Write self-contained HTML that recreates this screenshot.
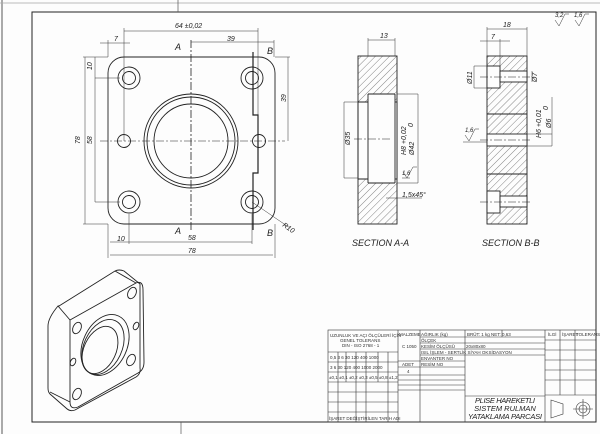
<!DOCTYPE html>
<html><head><meta charset="utf-8"><style>
html,body{margin:0;padding:0;background:#fff;}
svg{display:block;font-family:"Liberation Sans",sans-serif;}
</style></head><body>
<svg width="600" height="434" viewBox="0 0 600 434" xmlns="http://www.w3.org/2000/svg">
<defs>
<pattern id="h" width="5" height="5" patternUnits="userSpaceOnUse" patternTransform="rotate(45)"><line x1="0" y1="0" x2="0" y2="5" stroke="#333" stroke-width="0.6"/></pattern>
</defs>
<rect width="600" height="434" fill="#fdfdfd"/>
<line x1="0" y1="3" x2="600" y2="3" stroke="#bbb" stroke-width="1"/>
<line x1="2" y1="0" x2="2" y2="434" stroke="#aaa" stroke-width="2"/>
<rect x="32" y="12" width="564" height="410" fill="none" stroke="#222" stroke-width="1"/>
<line x1="178" y1="0" x2="178" y2="12" stroke="#555" stroke-width="0.7"/>
<line x1="181" y1="422" x2="181" y2="434" stroke="#555" stroke-width="0.7"/>

<!-- main view -->
<g stroke="#222" fill="none" stroke-width="0.9">
<rect x="108" y="57" width="167" height="167" rx="16"/>
<circle cx="191" cy="141" r="47"/><circle cx="191" cy="141" r="44"/><circle cx="191" cy="141" r="37"/>
<circle cx="129" cy="78" r="11"/><circle cx="129" cy="78" r="6.5"/>
<circle cx="252" cy="78" r="11"/><circle cx="252" cy="78" r="6.5"/>
<circle cx="129" cy="202" r="11"/><circle cx="129" cy="202" r="6.5"/>
<circle cx="252" cy="202" r="11"/><circle cx="252" cy="202" r="6.5"/>
<circle cx="124" cy="141" r="6.5"/><circle cx="259" cy="141" r="6.5"/>
<path d="M191 40 V230" stroke-dasharray="8 2 2 2" stroke-width="0.8"/>
<path d="M100 141 H285" stroke-dasharray="8 2 2 2" stroke-width="0.6"/>
<path d="M253 52 V115 H258 V173 H253 V230" stroke-width="1.2"/>
</g>
<g stroke="#333" stroke-width="0.5" fill="none">
<line x1="124" y1="31" x2="258" y2="31"/><line x1="124" y1="28" x2="124" y2="141"/><line x1="258" y1="28" x2="258" y2="141"/>
<line x1="191" y1="42" x2="274" y2="42"/><line x1="274" y1="40" x2="274" y2="57"/>
<line x1="100" y1="43" x2="130" y2="43"/><line x1="108" y1="40" x2="108" y2="57"/>
<line x1="83" y1="57" x2="108" y2="57"/><line x1="83" y1="224" x2="108" y2="224"/><line x1="85" y1="57" x2="85" y2="224"/>
<line x1="95" y1="78" x2="120" y2="78"/><line x1="95" y1="202" x2="120" y2="202"/><line x1="95" y1="57" x2="95" y2="78"/><line x1="95" y1="78" x2="95" y2="202"/>
<line x1="275" y1="57" x2="290" y2="57"/><line x1="288" y1="57" x2="288" y2="141"/>
<line x1="108" y1="224" x2="108" y2="258"/><line x1="275" y1="224" x2="275" y2="258"/><line x1="110" y1="255" x2="273" y2="255"/>
<line x1="110" y1="242" x2="252" y2="242"/><line x1="129" y1="214" x2="129" y2="244"/><line x1="252" y1="214" x2="252" y2="244"/>
<line x1="252" y1="202" x2="290" y2="228"/>
</g>
<g font-size="7" font-style="italic" fill="#222">
<text x="175" y="28">64 ±0,02</text>
<text x="227" y="41">39</text>
<text x="114" y="41">7</text>
<text x="175" y="50" font-size="9">A</text><text x="175" y="234" font-size="9">A</text>
<text x="267" y="54" font-size="9">B</text><text x="267" y="236" font-size="9">B</text>
<text x="117" y="241">10</text><text x="188" y="240">58</text><text x="188" y="253">78</text>
<text x="282" y="226" transform="rotate(35 282 226)">R10</text>
<text x="80" y="144" transform="rotate(-90 80 144)">78</text>
<text x="92" y="144" transform="rotate(-90 92 144)">58</text>
<text x="92" y="70" transform="rotate(-90 92 70)">10</text>
<text x="286" y="102" transform="rotate(-90 286 102)">39</text>
</g>

<!-- section A-A -->
<g stroke="#222" stroke-width="0.9">
<rect x="358" y="56" width="39" height="168" fill="url(#h)"/>
<rect x="358" y="102" width="39" height="77" fill="#fdfdfd"/>
<rect x="368" y="94" width="27" height="89" fill="#fdfdfd" stroke="none"/>
<path d="M358 102 V179 M358 102 H368 M358 179 H368 M368 94 V183 M368 94 H395 M368 183 H395 M395 94 V183" fill="none"/>
<path d="M354 139 H390" stroke-dasharray="8 2 2 2" stroke-width="0.5" fill="none"/>
</g>
<g stroke="#333" stroke-width="0.5" fill="none">
<line x1="368" y1="40" x2="395" y2="40"/><line x1="368" y1="38" x2="368" y2="56"/><line x1="395" y1="38" x2="395" y2="56"/>
<line x1="344" y1="102" x2="344" y2="178"/><line x1="344" y1="102" x2="358" y2="102"/><line x1="344" y1="178" x2="358" y2="178"/>
<line x1="418" y1="94" x2="418" y2="183"/><line x1="397" y1="94" x2="418" y2="94"/><line x1="397" y1="183" x2="418" y2="183"/>
<line x1="386" y1="198" x2="422" y2="198"/>
<path d="M402 178 L410 178 M403 172 l4 6 l6 -11 h4"/>
</g>
<g font-size="7" font-style="italic" fill="#222">
<text x="380" y="38">13</text>
<text x="350" y="145" transform="rotate(-90 350 145)">Ø35</text>
<text x="414" y="155" transform="rotate(-90 414 155)">Ø42</text>
<text x="406" y="155" transform="rotate(-90 406 155)">H8 +0,02</text>
<text x="413" y="127" transform="rotate(-90 413 127)">0</text>
<text x="402" y="197">1,5x45°</text>
<text x="402" y="175" font-size="6">1,6</text>
<text x="352" y="246" font-size="9">SECTION A-A</text>
</g>

<!-- section B-B -->
<g stroke="#222" stroke-width="0.9">
<rect x="487" y="56" width="40" height="168" fill="url(#h)"/>
<rect x="487" y="66" width="13" height="22" fill="#fdfdfd"/><rect x="500" y="71" width="27" height="11" fill="#fdfdfd"/>
<rect x="487" y="134" width="40" height="12" fill="#fdfdfd"/>
<rect x="487" y="191" width="13" height="22" fill="#fdfdfd"/><rect x="500" y="196" width="27" height="11" fill="#fdfdfd"/>
<path d="M487 114 H527 M487 174 H527" fill="none"/>
<path d="M480 77 H532 M480 140 H532 M480 202 H532" stroke-dasharray="8 2 2 2" stroke-width="0.5" fill="none"/>
</g>
<g stroke="#333" stroke-width="0.5" fill="none">
<line x1="487" y1="29" x2="527" y2="29"/><line x1="487" y1="27" x2="487" y2="56"/><line x1="527" y1="27" x2="527" y2="56"/>
<line x1="480" y1="41" x2="510" y2="41"/><line x1="500" y1="39" x2="500" y2="66"/>
<line x1="474" y1="66" x2="474" y2="88"/><line x1="474" y1="66" x2="487" y2="66"/><line x1="474" y1="88" x2="487" y2="88"/>
<line x1="532" y1="71" x2="532" y2="82"/>
<line x1="552" y1="97" x2="552" y2="146"/><line x1="527" y1="134" x2="552" y2="134"/><line x1="527" y1="146" x2="552" y2="146"/>
<path d="M465 135 l4 6 l6 -12 h4 M463 142 H487"/>
<path d="M555 20 l4 6 l6 -12 h4 M575 20 l4 6 l6 -12 h4"/>
</g>
<g font-size="7" font-style="italic" fill="#222">
<text x="503" y="27">18</text><text x="491" y="39">7</text>
<text x="472" y="84" transform="rotate(-90 472 84)">Ø11</text>
<text x="537" y="82" transform="rotate(-90 537 82)">Ø7</text>
<text x="551" y="128" transform="rotate(-90 551 128)">Ø6</text>
<text x="541" y="138" transform="rotate(-90 541 138)">H6 +0,01</text>
<text x="548" y="110" transform="rotate(-90 548 110)">0</text>
<text x="465" y="132" font-size="6">1,6</text>
<text x="555" y="17" font-size="6">3,2</text><text x="574" y="17" font-size="6">1,6</text>
<text x="482" y="246" font-size="9">SECTION B-B</text>
</g>

<!-- isometric -->
<g stroke="#222" stroke-width="0.9" fill="none">
<path d="M59 306 L115 271 Q119 269 124 271 L140 284 L140 368 Q141 374 136 377 L75 410 Q70 412 66 408 L50 394 Q48 392 48 388 L48 326 Q48 318 58 306 Z"/>
<path d="M70 320 L136 283 Q143 280 143 290 L144 362 Q144 370 138 373 L78 407 Q70 410 70 402 Z"/>
<path d="M58 306 L70 320 M115 271 L136 283 M50 392 L70 402"/>
<ellipse cx="105" cy="345" rx="22" ry="32" transform="rotate(25 105 345)"/>
<ellipse cx="103" cy="347" rx="19" ry="29" transform="rotate(25 103 347)"/>
<ellipse cx="100" cy="350" rx="16" ry="25" transform="rotate(25 100 350)"/>
<ellipse cx="132" cy="293" rx="4" ry="6" transform="rotate(25 132 293)"/>
<ellipse cx="131" cy="360" rx="4" ry="6" transform="rotate(25 131 360)"/>
<ellipse cx="77" cy="328" rx="4" ry="6" transform="rotate(25 77 328)"/>
<ellipse cx="77" cy="394" rx="4" ry="6" transform="rotate(25 77 394)"/>
<ellipse cx="136" cy="326" rx="2.5" ry="4" transform="rotate(25 136 326)"/>
<ellipse cx="73" cy="362" rx="2.5" ry="4" transform="rotate(25 73 362)"/>
</g>

<!-- title block -->
<g stroke="#333" stroke-width="0.6" fill="none">
<rect x="328" y="330" width="268" height="92"/>
<line x1="398" y1="330" x2="398" y2="422"/><line x1="420" y1="330" x2="420" y2="422"/><line x1="465" y1="330" x2="465" y2="422"/>
<line x1="545" y1="330" x2="545" y2="422"/><line x1="560" y1="330" x2="560" y2="395"/><line x1="575" y1="330" x2="575" y2="395"/>
<line x1="545" y1="395" x2="596" y2="395"/>
<line x1="328" y1="352" x2="398" y2="352"/><line x1="328" y1="362" x2="398" y2="362"/><line x1="328" y1="372" x2="398" y2="372"/><line x1="328" y1="382" x2="398" y2="382"/><line x1="328" y1="392" x2="398" y2="392"/><line x1="328" y1="402" x2="398" y2="402"/><line x1="328" y1="412" x2="398" y2="412"/>
<line x1="338" y1="352" x2="338" y2="422"/><line x1="346" y1="352" x2="346" y2="382"/><line x1="356" y1="352" x2="356" y2="422"/><line x1="366" y1="352" x2="366" y2="422"/><line x1="378" y1="352" x2="378" y2="382"/><line x1="388" y1="352" x2="388" y2="422"/>
<line x1="398" y1="361" x2="465" y2="361"/><line x1="398" y1="367" x2="465" y2="367"/><line x1="420" y1="337" x2="545" y2="337"/><line x1="420" y1="343" x2="545" y2="343"/><line x1="420" y1="349" x2="545" y2="349"/><line x1="420" y1="355" x2="545" y2="355"/>
<line x1="398" y1="375" x2="465" y2="375"/><line x1="398" y1="380" x2="465" y2="380"/><line x1="398" y1="385" x2="465" y2="385"/><line x1="398" y1="390" x2="465" y2="390"/>
<line x1="545" y1="340" x2="596" y2="340"/><line x1="545" y1="350" x2="596" y2="350"/><line x1="545" y1="360" x2="596" y2="360"/><line x1="545" y1="370" x2="596" y2="370"/><line x1="545" y1="380" x2="596" y2="380"/>
<line x1="465" y1="396" x2="545" y2="396"/><line x1="502" y1="330" x2="502" y2="337"/>
<path d="M551 400 L563 404 L563 414 L551 418 Z"/>
<circle cx="583" cy="409" r="7"/><circle cx="583" cy="409" r="4"/><path d="M573 409 H593 M583 399 V419"/>
</g>
<g font-size="4.5" fill="#333">
<text x="330" y="337">UZUNLUK VE AÇI ÖLÇÜLERİ İÇİN</text><text x="340" y="342">GENEL TOLERANS</text><text x="342" y="347">DIN - ISO 2768 - 1</text>
<text x="330" y="359">0,5  3   6   30  120  400 1000</text><text x="330" y="369">3    6   30  120 400 1000 2000</text><text x="329" y="379">±0,1 ±0,1 ±0,2 ±0,3 ±0,5 ±0,8 ±1,2</text>
<text x="329" y="420">İŞARET  DEĞİŞTİRİLEN  TARİH  ADI</text>
<text x="399" y="336">MALZEME</text><text x="402" y="348">C 1050</text><text x="402" y="366">ADET</text><text x="407" y="373">4</text>
<text x="421" y="336">AĞIRLIK (kg)</text><text x="467" y="336">BRÜT: 1 kg  NET: 0,63</text>
<text x="421" y="342">ÖLÇEK</text><text x="421" y="348">KESİM ÖLÇÜSÜ</text><text x="466" y="348">20x80x80</text>
<text x="421" y="354">ISIL İŞLEM - SERTLİK SİYAH OKSİDASYON</text><text x="421" y="360">ENVANTER NO</text><text x="421" y="366">RESİM NO</text>
<text x="548" y="336">İLGİ</text><text x="562" y="336">İŞARET</text><text x="576" y="336">TOLERANS</text>
</g>
<g font-size="7.5" font-style="italic" fill="#222" text-anchor="middle">
<text x="505" y="403" textLength="60">PLISE HAREKETLI</text><text x="505" y="411">SISTEM RULMAN</text><text x="505" y="419" textLength="74">YATAKLAMA PARCASI</text>
</g>
</svg>
</body></html>
